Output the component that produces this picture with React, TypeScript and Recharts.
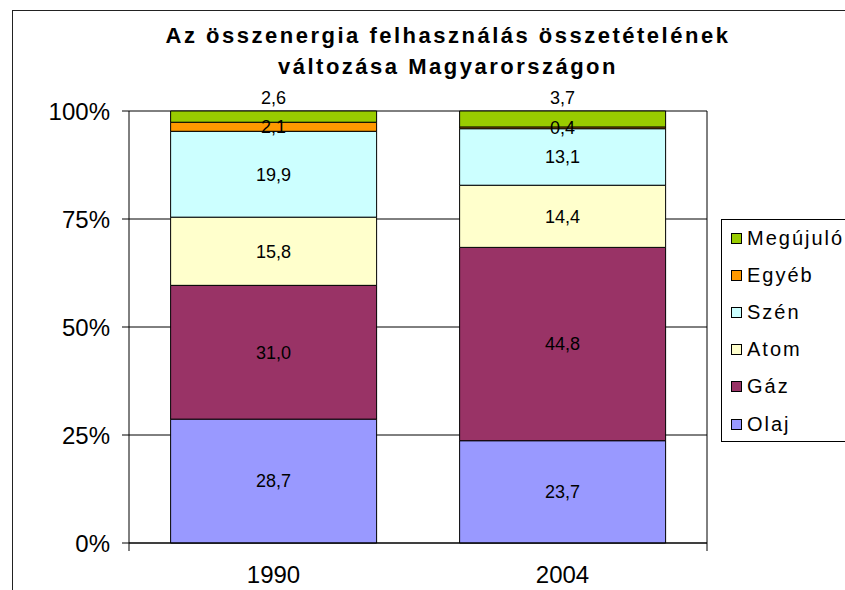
import React from "react";
import { BarChart, Bar, XAxis, YAxis, CartesianGrid, LabelList, Legend } from "recharts";

const categories = ["1990", "2004"];
const olaj = [28.7, 23.7];
const gaz = [31.0, 44.8];
const atom = [15.8, 14.4];
const szen = [19.9, 13.1];
const egyeb = [2.1, 0.4];
const megujulo = [2.6, 3.7];
const yTicks = [0, 0.25, 0.5, 0.75, 1];

const series = [
  { key: "olaj", name: "Olaj", color: "#9999FF", values: olaj },
  { key: "gaz", name: "Gáz", color: "#993366", values: gaz },
  { key: "atom", name: "Atom", color: "#FFFFCC", values: atom },
  { key: "szen", name: "Szén", color: "#CCFFFF", values: szen },
  { key: "egyeb", name: "Egyéb", color: "#FF9900", values: egyeb },
  { key: "megujulo", name: "Megújuló", color: "#99CC00", values: megujulo },
];

const data = categories.map((c, i) => {
  const row: Record<string, any> = { year: c };
  series.forEach((s) => (row[s.key] = s.values[i]));
  return row;
});

const FONT = "'Liberation Sans', Arial, sans-serif";
const fmt = (v: any) => Number(v).toFixed(1).replace(".", ",");

const LegendBox = () => (
  <div
    style={{
      width: 140,
      height: 223,
      border: "1px solid #000",
      boxSizing: "border-box",
      background: "#fff",
      fontFamily: FONT,
      fontSize: 20,
      letterSpacing: 2,
      color: "#000",
    }}
  >
    {[...series].reverse().map((s) => (
      <div
        key={s.key}
        style={{ height: 37.1, display: "flex", alignItems: "center", paddingLeft: 9 }}
      >
        <span
          style={{
            display: "inline-block",
            width: 11,
            height: 11,
            background: s.color,
            border: "1px solid #000",
            marginRight: 5,
            boxSizing: "border-box",
            flexShrink: 0,
          }}
        />
        <span style={{ whiteSpace: "nowrap" }}>{s.name}</span>
      </div>
    ))}
  </div>
);

export default function App() {
  return (
    <div
      style={{
        position: "absolute",
        left: 0,
        top: 0,
        width: 845,
        height: 590,
        overflow: "hidden",
        background: "#fff",
        fontFamily: FONT,
      }}
    >
      <div
        style={{
          position: "absolute",
          left: 12,
          top: 10,
          width: 1000,
          height: 1000,
          border: "1.5px solid #222",
        }}
      />
      <div
        style={{
          position: "absolute",
          left: 48,
          top: 20,
          width: 800,
          textAlign: "center",
          fontFamily: FONT,
          fontWeight: "bold",
          fontSize: 22,
          lineHeight: "31px",
          letterSpacing: 2.5,
          color: "#000",
          zIndex: 2,
        }}
      >
        Az összenergia felhasználás összetételének
        <br />
        változása Magyarországon
      </div>
      <BarChart
        width={845}
        height={590}
        data={data}
        stackOffset="expand"
        barCategoryGap="14.4%"
        margin={{ top: 111, right: 137, bottom: 0, left: 0 }}
        style={{ position: "absolute", left: 0, top: 0 }}
      >
        <CartesianGrid horizontal vertical={false} stroke="#000" strokeWidth={1} />
        <XAxis
          type="number"
          domain={[0, 2]}
          ticks={[0, 1, 2]}
          height={1}
          tickFormatter={() => ""}
          tick={{ fontSize: 1, fill: "transparent" }}
          tickSize={8}
          axisLine={{ stroke: "#000" }}
          tickLine={{ stroke: "#000" }}
          allowDataOverflow
        />
        <XAxis
          xAxisId="cat"
          dataKey="year"
          type="category"
          height={46}
          axisLine={false}
          tickLine={false}
          tickSize={8}
          tickMargin={14}
          tick={{ fill: "#000", fontSize: 24, fontFamily: FONT }}
        />
        <YAxis
          type="number"
          domain={[0, 1]}
          ticks={yTicks}
          width={129}
          tickSize={7}
          tickMargin={12}
          axisLine={{ stroke: "#000" }}
          tickLine={{ stroke: "#000" }}
          tick={{ fill: "#000", fontSize: 24, fontFamily: FONT }}
          tickFormatter={(v: number) => `${Math.round(v * 100)}%`}
        />
        <YAxis
          yAxisId="r"
          orientation="right"
          type="number"
          domain={[0, 1]}
          width={1}
          tick={false}
          tickLine={false}
          axisLine={{ stroke: "#000" }}
        />
        <Legend
          layout="horizontal"
          verticalAlign="middle"
          align="center"
          wrapperStyle={{ left: 721, top: 219, width: 140, height: 223 }}
          content={() => <LegendBox />}
        />
        {series.map((s) => (
          <Bar
            key={s.key}
            dataKey={s.key}
            name={s.name}
            stackId="a"
            xAxisId="cat"
            fill={s.color}
            stroke="#000"
            strokeWidth={1}
            isAnimationActive={false}
          >
            <LabelList
              dataKey={s.key}
              position={s.key === "megujulo" ? "top" : "center"}
              offset={7}
              formatter={fmt}
              style={{ fill: "#000", fontSize: 18, fontFamily: FONT }}
            />
          </Bar>
        ))}
      </BarChart>
    </div>
  );
}
